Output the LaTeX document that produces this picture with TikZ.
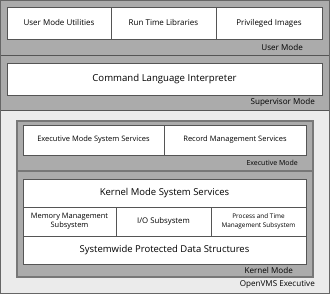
\documentclass[tikz,border=0pt]{standalone}
\usepackage{fontspec}
\setmainfont{Open Sans}
\definecolor{band}{HTML}{ABABAB}
\definecolor{light}{HTML}{EBEBEB}
\definecolor{edge}{HTML}{555555}
\tikzset{
  wbox/.style={draw=edge, fill=white, line width=0.8pt, inner sep=0pt, align=center},
  gbox/.style={draw=edge!80, fill=band, line width=1.2pt, inner sep=0pt},
  lab/.style={inner sep=0pt, anchor=east, font=\fontsize{8.1}{9}\selectfont},
}
\begin{document}
\begin{tikzpicture}[x=1pt,y=-1pt]
\useasboundingbox (0,0) rectangle (330,294);
% bands
\fill[light] (0,111) rectangle (330,294);
\fill[band] (0,0) rectangle (330,111);
\draw[edge, line width=1pt] (0,55.5) -- (330,55.5);
\draw[edge, line width=1pt] (0,111) -- (330,111);
\draw[edge!90, line width=1pt] (0.5,0.5) rectangle (329.5,293.5);
% user mode
\node[wbox, minimum width=104pt, minimum height=32pt, font=\fontsize{8}{9}\selectfont] (umu) at (59,23) {User Mode Utilities};
\node[wbox, minimum width=105pt, minimum height=32pt, font=\fontsize{8}{9}\selectfont] (rtl) at (163.5,23) {Run Time Libraries};
\node[wbox, minimum width=106pt, minimum height=32pt, font=\fontsize{8}{9}\selectfont] (pi) at (269,23) {Privileged Images};
\node[lab] (ulab) at (303,47) {User Mode};
% supervisor
\node[wbox, minimum width=315pt, minimum height=32pt, font=\fontsize{9.6}{11}\selectfont] (cli) at (164.5,79) {Command Language Interpreter};
\node[lab] (slab) at (315,102) {Supervisor Mode};
% executive
\node[gbox, minimum width=296pt, minimum height=50pt] (exec) at (165,146) {};
\node[wbox, minimum width=141pt, minimum height=30pt, font=\fontsize{7.5}{8}\selectfont] (emss) at (93.5,140) {Executive Mode System Services};
\node[wbox, minimum width=142pt, minimum height=30pt, font=\fontsize{7.5}{8}\selectfont] (rms) at (235,140) {Record Management Services};
\node[lab, font=\fontsize{7}{8}\selectfont] (elab) at (298,163) {Executive Mode};
% kernel
\node[gbox, minimum width=296pt, minimum height=106pt] (kern) at (165,224) {};
\node[wbox, minimum width=283pt, minimum height=28pt, font=\fontsize{9.5}{10}\selectfont] (kmss) at (164.5,193) {Kernel Mode System Services};
\node[wbox, minimum width=93pt, minimum height=29pt, font=\fontsize{7.45}{9}\selectfont] (mms) at (69.5,221.5) {Memory Management\\Subsystem};
\node[wbox, minimum width=95pt, minimum height=29pt, font=\fontsize{7.8}{9}\selectfont] (io) at (163.5,221.5) {I/O Subsystem};
\node[wbox, minimum width=95pt, minimum height=29pt, font=\fontsize{6.4}{8.4}\selectfont] (ptm) at (258.5,221.5) {Process and Time\\Management Subsystem};
\node[wbox, minimum width=283pt, minimum height=28pt, font=\fontsize{9.5}{10}\selectfont] (spds) at (164.5,250) {Systemwide Protected Data Structures};
\node[lab] (klab) at (293,270) {Kernel Mode};
\node[lab] (olab) at (315,284.5) {OpenVMS Executive};
\end{tikzpicture}
\end{document}
